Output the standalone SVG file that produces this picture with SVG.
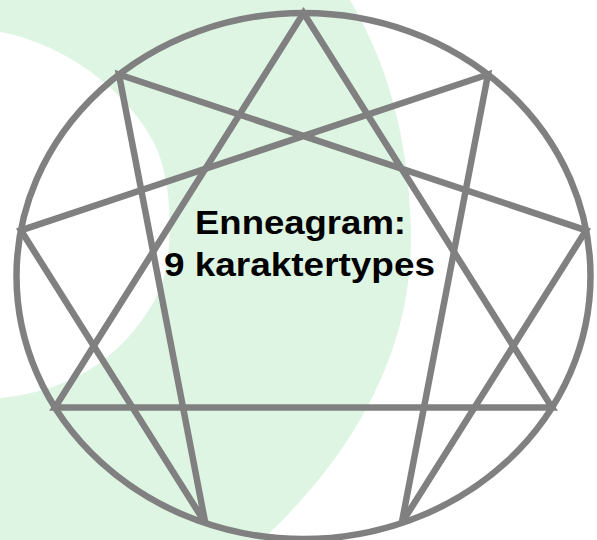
<svg xmlns="http://www.w3.org/2000/svg" width="597" height="540" viewBox="0 0 597 540">
  <style>
    .bg-green { fill: #def5e4; }
    .bg-white { fill: #ffffff; }
    .ring { fill: none; stroke: #808080; stroke-width: 6.5; }
    .edge { fill: none; stroke: #808080; stroke-width: 6.5; stroke-linejoin: miter; stroke-linecap: butt; }
    .title { font-family: "Liberation Sans", Arial, sans-serif; font-weight: bold; font-size: 34px; fill: #000000; }
  </style>
  <rect x="0" y="0" width="597" height="540" fill="#ffffff"/>
  <g id="background">
    <path class="bg-green" d="M0,0 L350,0 C385,60 408,130 411,230 C413,320 380,430 262,540 L0,540 Z"/>
    <path class="bg-white" d="M0,32 C70,45 130,95 155,145 C172,180 175,250 160,290 C130,350 80,390 0,398 Z"/>
  </g>
  <g id="ring">
    <ellipse class="ring" cx="303.5" cy="276" rx="287" ry="263"/>
  </g>
  <g id="connectors">
    <polygon id="triangle-9-3-6" class="edge" points="303.5,13 552,407.5 55,407.5"/>
    <polygon id="hexad-1-4-2-8-5-7" class="edge" points="488,74.5 401.7,523.1 586.1,230.3 119,74.5 205.3,523.1 20.9,230.3"/>
  </g>
  <g id="label">
    <text class="title" x="300.5" y="233.5" text-anchor="middle" textLength="211" lengthAdjust="spacingAndGlyphs">Enneagram:</text>
    <text class="title" x="299.5" y="276" text-anchor="middle" textLength="271" lengthAdjust="spacingAndGlyphs">9 karaktertypes</text>
  </g>
</svg>
